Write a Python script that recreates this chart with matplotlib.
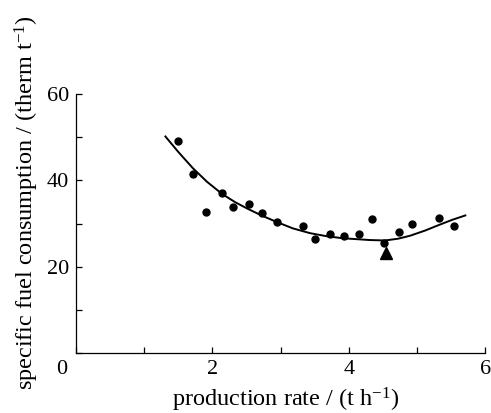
import matplotlib
matplotlib.use("Agg")
import matplotlib.pyplot as plt
from matplotlib.ticker import MultipleLocator

# measured points (production rate t/h, specific fuel consumption therm/t)
rate = [1.50, 1.72, 1.91, 2.14, 2.30, 2.53, 2.73, 2.94, 3.33, 3.51,
        3.73, 3.93, 4.15, 4.34, 4.51, 4.73, 4.93, 5.33, 5.54]
fuel = [49.1, 41.6, 32.7, 37.1, 33.8, 34.5, 32.4, 30.3, 29.5, 26.4,
        27.6, 27.2, 27.5, 31.0, 25.6, 28.1, 29.9, 31.3, 29.4]

# optimum marker
opt_rate = [4.55]
opt_fuel = [23.3]

# fitted curve
curve_x = [1.31, 1.50, 1.71, 1.92, 2.14, 2.33, 2.51, 2.72, 2.94, 3.18, 3.43,
           3.67, 3.92, 4.12, 4.31, 4.53, 4.72, 4.90, 5.12, 5.34, 5.52, 5.71]
curve_y = [50.2, 46.6, 42.9, 39.7, 36.9, 35.0, 33.5, 31.9, 30.4, 28.9, 27.8,
           27.1, 26.6, 26.4, 26.2, 26.1, 26.5, 27.2, 28.4, 29.8, 30.9, 31.9]

plt.rcParams['font.family'] = ['Liberation Serif', 'DejaVu Serif']
plt.rcParams['mathtext.default'] = 'regular'

fig = plt.figure(figsize=(4.91, 4.13), dpi=100)
ax = fig.add_axes([0.155, 0.145, 0.833, 0.627])

ax.plot(curve_x, curve_y, color='black', lw=1.4)
ax.plot(rate, fuel, 'o', color='black', ms=5)
ax.plot(opt_rate, opt_fuel, '^', color='black', ms=8)

ax.set_xlim(0, 6)
ax.set_ylim(0, 60)
ax.xaxis.set_minor_locator(MultipleLocator(1))
ax.yaxis.set_minor_locator(MultipleLocator(10))
ax.set_xticks([2, 4, 6])
ax.set_yticks([20, 40, 60])
ax.tick_params(which='both', direction='in', length=4, width=0.9,
               labelsize=16, pad=5)
for s in ['top', 'right']:
    ax.spines[s].set_visible(False)
for s in ['left', 'bottom']:
    ax.spines[s].set_linewidth(0.9)

ax.text(-0.035, -0.027, '0', transform=ax.transAxes, ha='center', va='top',
        fontsize=16)

ax.set_xlabel(r'production rate / (t h$^{-1}$)', fontsize=17.5, va='center')
ax.set_ylabel(r'specific fuel consumption / (therm t$^{-1}$)', fontsize=17.5,
              va='center')
ax.xaxis.set_label_coords(0.513, -0.18)
ax.yaxis.set_label_coords(-0.12, 0.579)

fig.savefig('out.png', dpi=100)
